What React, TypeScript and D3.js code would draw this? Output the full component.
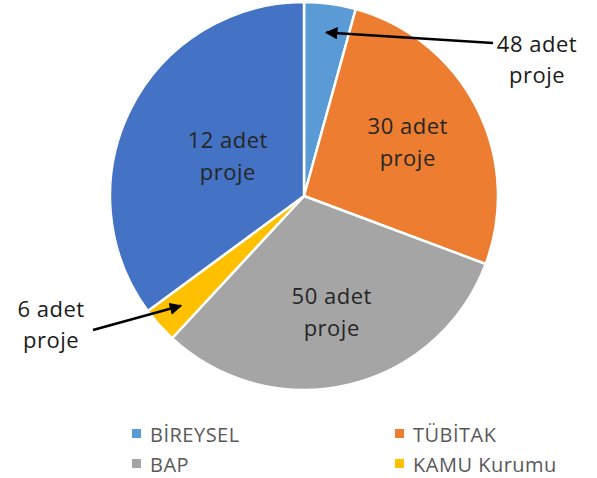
import React from 'react';
import * as d3 from 'd3';

// slices clockwise from 12 o'clock
const categories = ['BİREYSEL', 'TÜBİTAK', 'BAP', 'KAMU Kurumu', 'Diğer'];
const shares = [4.3, 26.4, 31.2, 3.0, 35.1];
const colors = ['#5B9BD5', '#ED7D31', '#A5A5A5', '#FFC000', '#4472C4'];
const sliceLabels = ['48 adet', '30 adet', '50 adet', '6 adet', '12 adet'];
const legendItems = ['BİREYSEL', 'TÜBİTAK', 'BAP', 'KAMU Kurumu'];

const W = 597;
const H = 478;
const cx = 304;
const cy = 196;
const R = 194;

// where each label sits (fraction of radius), or outside with an arrow
const labelLayout = [
  { outside: true, tx: 537, ty: 52, tail: [493, 43], anchor: 'middle' },
  { outside: false, k: 0.6 },
  { outside: false, k: 0.62 },
  { outside: true, tx: 51, ty: 317, tail: [93, 330], anchor: 'middle' },
  { outside: false, k: 0.44 },
];

const font = '"Open Sans", "Noto Sans", sans-serif';

export default function App() {
  const data = categories.map((c, i) => ({ name: c, value: shares[i], color: colors[i], label: sliceLabels[i] }));
  const pie = d3.pie<any>().sort(null).value(d => d.value).startAngle(0).endAngle(2 * Math.PI);
  const arcs = pie(data);
  const arc = d3.arc<any>().innerRadius(0).outerRadius(R);

  return (
    <svg width={W} height={H} style={{ position: 'absolute', left: 0, top: 0, background: '#fff' }}>
      <defs>
        <marker id="ah" viewBox="0 0 10 10" refX="9" refY="5" markerWidth="5" markerHeight="5" orient="auto">
          <path d="M0,0 L10,5 L0,10 z" fill="#000" />
        </marker>
      </defs>
      <g transform={`translate(${cx},${cy})`}>
        {arcs.map((a, i) => (
          <path key={i} d={arc(a) as string} fill={a.data.color} stroke="#fff" strokeWidth={2.5} strokeLinejoin="round" />
        ))}
      </g>
      {arcs.map((a, i) => {
        const lay: any = labelLayout[i];
        if (lay.outside) {
          const tip = d3.arc<any>().innerRadius(R * 0.85).outerRadius(R * 0.85).centroid(a);
          return (
            <g key={i}>
              <line x1={lay.tail[0]} y1={lay.tail[1]} x2={cx + tip[0]} y2={cy + tip[1]}
                stroke="#000" strokeWidth={2.5} markerEnd="url(#ah)" />
              <text x={lay.tx} y={lay.ty} textAnchor="middle" fontFamily={font} fontSize={22}
                letterSpacing={0.5} fill="#1a1a1a">
                <tspan x={lay.tx}>{a.data.label}</tspan>
                <tspan x={lay.tx} dy={31}>proje</tspan>
              </text>
            </g>
          );
        }
        const c = d3.arc<any>().innerRadius(R * lay.k).outerRadius(R * lay.k).centroid(a);
        const x = cx + c[0];
        const y = cy + c[1];
        return (
          <text key={i} x={x} y={y - 9} textAnchor="middle" fontFamily={font} fontSize={22}
            letterSpacing={0.5} fill="#262626">
            <tspan x={x}>{a.data.label}</tspan>
            <tspan x={x} dy={32}>proje</tspan>
          </text>
        );
      })}
      <g fontFamily={font} fontSize={20} fill="#595959">
        {legendItems.map((name, i) => {
          const col = i % 2;
          const row = Math.floor(i / 2);
          const x = col === 0 ? 132 : 395;
          const y = 442 + row * 30;
          const idx = categories.indexOf(name);
          return (
            <g key={name}>
              <rect x={x} y={y - 13} width={9} height={9} fill={colors[idx]} />
              <text x={x + 18} y={y} letterSpacing={0.5}>{name}</text>
            </g>
          );
        })}
      </g>
    </svg>
  );
}
